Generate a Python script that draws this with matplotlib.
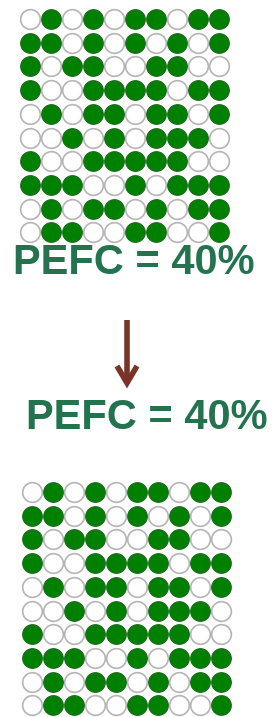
import numpy as np
import matplotlib
matplotlib.use("Agg")
import matplotlib.pyplot as plt

# 10x10 grid of fields, 1 = filled (green), 0 = empty
grid_top = [
    [0, 1, 0, 1, 0, 1, 1, 0, 1, 1],
    [1, 1, 0, 1, 0, 1, 0, 1, 0, 1],
    [1, 0, 1, 1, 0, 0, 1, 1, 0, 0],
    [1, 0, 0, 1, 1, 1, 1, 0, 1, 1],
    [0, 1, 0, 1, 1, 0, 1, 1, 0, 1],
    [0, 0, 1, 0, 1, 0, 1, 1, 1, 0],
    [1, 0, 0, 1, 1, 1, 1, 1, 0, 0],
    [1, 1, 1, 0, 0, 1, 0, 1, 1, 1],
    [0, 1, 0, 1, 1, 0, 1, 0, 1, 1],
    [0, 1, 1, 0, 0, 1, 1, 0, 0, 1],
]
grid_bottom = [row[:] for row in grid_top]

label_top = "PEFC = 40%"
label_bottom = "PEFC = 40%"

W, H = 273, 717
fig = plt.figure(figsize=(W / 100, H / 100), dpi=100)
ax = fig.add_axes([0, 0, 1, 1])
ax.set_xlim(0, W)
ax.set_ylim(H, 0)
ax.axis("off")

GREEN = "#008000"
TEXT = "#23734f"
ARROW = "#7b3328"


def draw_grid(grid, x0, y0, dx=21.0, dy=23.7):
    g = np.array(grid)
    rows, cols = np.indices(g.shape)
    xs = x0 + cols.ravel() * dx
    ys = y0 + rows.ravel() * dy
    filled = g.ravel() == 1
    ax.scatter(xs[~filled], ys[~filled], s=200, facecolor="white",
               edgecolor="#b5b5b5", linewidth=1.2, zorder=2)
    ax.scatter(xs[filled], ys[filled], s=200, facecolor=GREEN,
               edgecolor="#1d6b1d", linewidth=0.8, zorder=2)


draw_grid(grid_top, 30, 19)
draw_grid(grid_bottom, 32, 492)

ax.text(134, 263, label_top, ha="center", va="center", fontsize=30,
        fontweight="bold", family="Liberation Sans", color=TEXT)
ax.text(147, 418, label_bottom, ha="center", va="center", fontsize=30,
        fontweight="bold", family="Liberation Sans", color=TEXT)

# down arrow with open chevron head
ax.plot([127, 127], [320, 383], color=ARROW, lw=4, solid_capstyle="butt")
ax.plot([117, 127, 137], [366, 383, 366], color=ARROW, lw=4,
        solid_joinstyle="miter", solid_capstyle="butt")

fig.savefig("out.png", dpi=100)
